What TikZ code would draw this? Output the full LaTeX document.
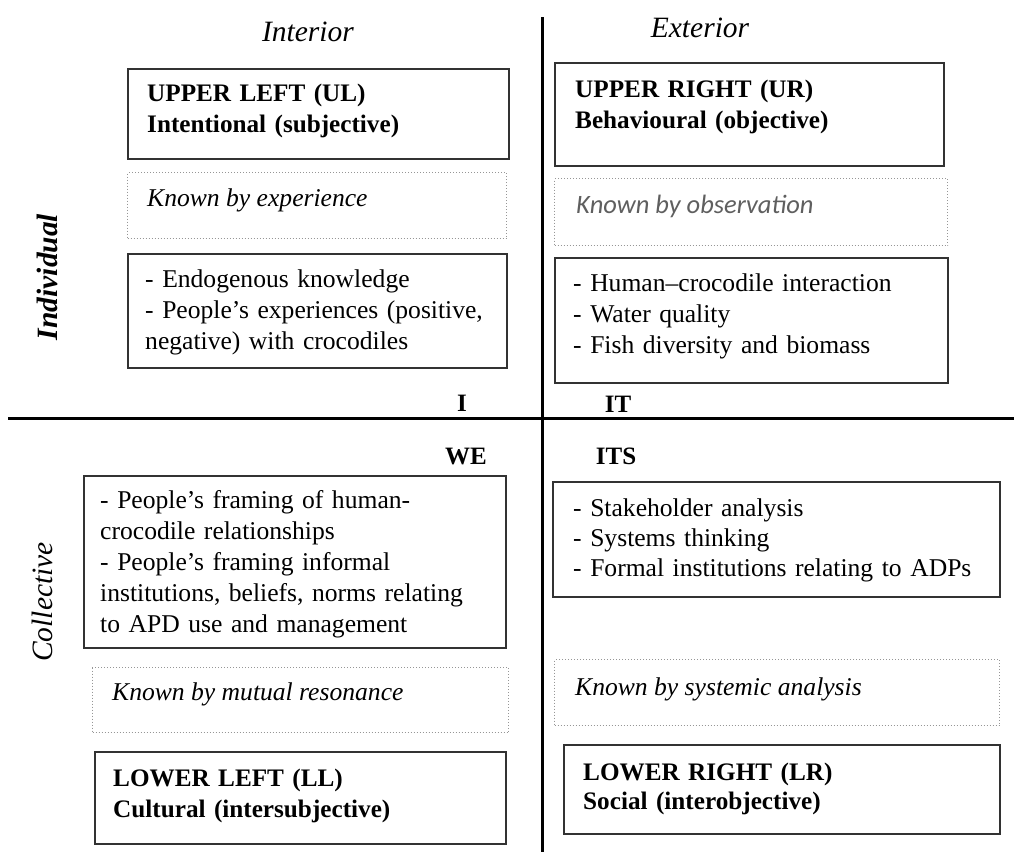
\documentclass[tikz,border=0pt]{standalone}
\usepackage{fontspec}
\setmainfont{Liberation Serif}
\newfontfamily\calib{Carlito}
\usetikzlibrary{calc}
\definecolor{boxline}{RGB}{50,50,50}
\definecolor{dotline}{RGB}{150,150,150}
\definecolor{obsgray}{RGB}{95,95,95}
\tikzset{
  solidbox/.style={draw=boxline, line width=1.6pt, inner sep=0pt, anchor=north west},
  dotbox/.style={draw=dotline, line width=1pt, dotted, inner sep=0pt, anchor=north west},
  body/.style={anchor=base west, inner sep=0pt, text width=440pt, align=left,
     font=\fontsize{25.6}{31}\selectfont},
  title/.style={body, font=\bfseries\fontsize{25.2}{31}\selectfont},
  known/.style={anchor=base west, inner sep=0pt, font=\itshape\fontsize{25.6}{31}\selectfont},
  pron/.style={anchor=base, inner sep=0pt, font=\bfseries\fontsize{25}{29}\selectfont},
  axis/.style={inner sep=0pt, font=\itshape\fontsize{29.5}{34}\selectfont},
  divider/.style={line width=3pt, black},
}
\begin{document}
\begin{tikzpicture}[x=1pt,y=-1pt]
\useasboundingbox (0,0) rectangle (1014,852);
% dividers
\coordinate (vtop) at (542,17);
\coordinate (vbot) at (542,852);
\coordinate (hl) at (8,418);
\coordinate (hr) at (1014,418);
\draw[divider] (vtop) -- (vbot);
\draw[divider] (hl) -- (hr);
% axis labels
\node[axis] (interior) at (308,32) {Interior};
\node[axis] (exterior) at (700,28) {Exterior};
\node[axis, font=\bfseries\itshape\fontsize{29.5}{34}\selectfont, rotate=90] (individual) at (47,277) {Individual};
\node[axis, rotate=90] (collective) at (42,602) {Collective};
% quadrant pronouns
\node[pron] (pI) at (462,411) {I};
\node[pron] (pIT) at (618,412) {IT};
\node[pron] (pWE) at (466,464) {WE};
\node[pron] (pITS) at (616,464) {ITS};
% upper left
\node[solidbox, minimum width=381pt, minimum height=90pt] (ul) at (127,68) {};
\node[title] (ult) at (147,101) {UPPER LEFT (UL)\\Intentional (subjective)};
\node[dotbox, minimum width=379pt, minimum height=66pt] (ulk) at (127,172) {};
\node[known] (ulkt) at (147,206) {Known by experience};
\node[solidbox, minimum width=379pt, minimum height=114pt] (ulc) at (127,253) {};
\node[body] (ulct) at (145,287) {- Endogenous knowledge\\- People’s experiences (positive,\\negative) with crocodiles};
% upper right
\node[solidbox, minimum width=389pt, minimum height=103pt] (ur) at (554,62) {};
\node[title] (urt) at (575,97) {UPPER RIGHT (UR)\\Behavioural (objective)};
\node[dotbox, minimum width=393pt, minimum height=67pt] (urk) at (554,178) {};
\node[known, font=\calib\itshape\fontsize{26.5}{31}\selectfont, text=obsgray] (urkt) at (576,213) {Known by observation};
\node[solidbox, minimum width=393pt, minimum height=125pt] (urc) at (554,257) {};
\node[body] (urct) at (573,291) {- Human–crocodile interaction\\- Water quality\\- Fish diversity and biomass};
% lower left
\node[solidbox, minimum width=422pt, minimum height=172pt] (llc) at (83,475) {};
\node[body] (llct) at (100,508) {- People’s framing of human-\\crocodile relationships\\- People’s framing informal\\institutions, beliefs, norms relating\\to APD use and management};
\node[dotbox, minimum width=416pt, minimum height=65pt] (llk) at (92,667) {};
\node[known] (llkt) at (112,700) {Known by mutual resonance};
\node[solidbox, minimum width=411pt, minimum height=92pt] (ll) at (94,751) {};
\node[title] (llt) at (113,786) {LOWER LEFT (LL)\\Cultural (intersubjective)};
% lower right
\node[solidbox, minimum width=447pt, minimum height=115pt] (lrc) at (552,481) {};
\node[body, font=\fontsize{25.6}{30}\selectfont] (lrct) at (573,516) {- Stakeholder analysis\\- Systems thinking\\- Formal institutions relating to ADPs};
\node[dotbox, minimum width=445pt, minimum height=66pt] (lrk) at (554,659) {};
\node[known] (lrkt) at (575,695) {Known by systemic analysis};
\node[solidbox, minimum width=436pt, minimum height=89pt] (lr) at (563,744) {};
\node[title, font=\bfseries\fontsize{25.2}{29}\selectfont] (lrt) at (583,780) {LOWER RIGHT (LR)\\Social (interobjective)};
\end{tikzpicture}
\end{document}
